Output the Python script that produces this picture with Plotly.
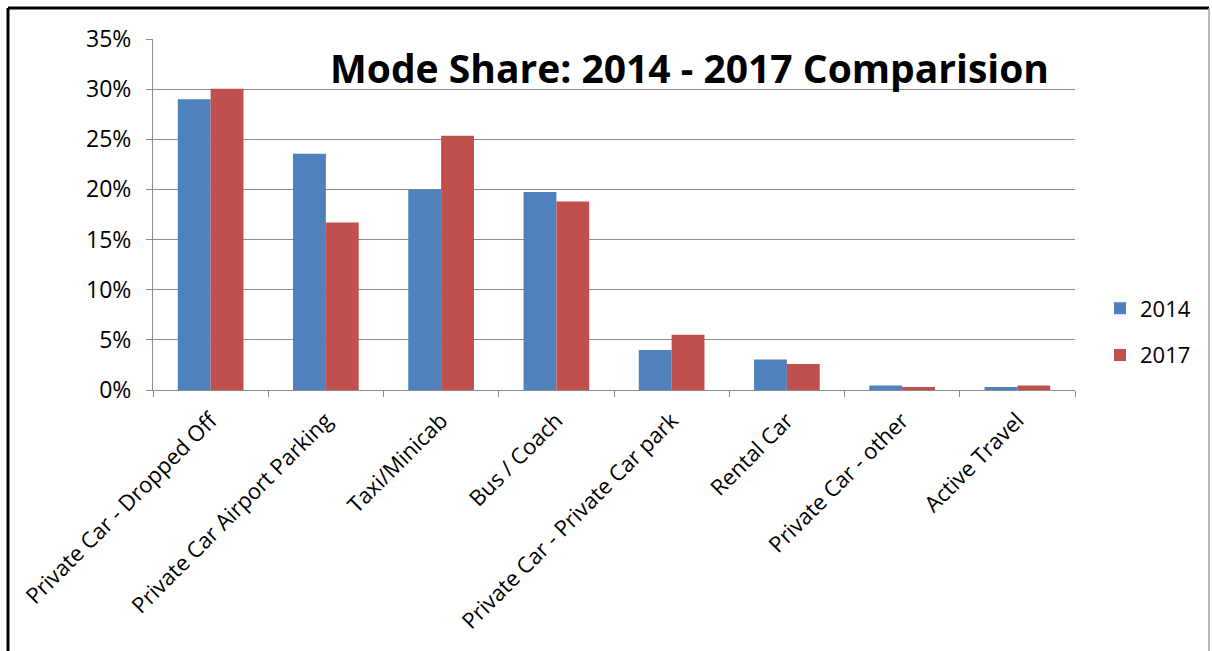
import plotly.graph_objects as go

# Mode share by travel mode, surveyed in 2014 and 2017 (percent)
modes = [
    "Private Car - Dropped Off",
    "Private Car Airport Parking",
    "Taxi/Minicab",
    "Bus / Coach",
    "Private Car - Private Car park",
    "Rental Car",
    "Private Car - other",
    "Active Travel",
]
share_2014 = [29.0, 23.55, 20.0, 19.75, 4.0, 3.05, 0.45, 0.3]
share_2017 = [30.05, 16.7, 25.35, 18.8, 5.5, 2.6, 0.3, 0.45]

BLUE = "#4F81BD"
RED = "#C0504D"
GRID = "#8C8C8C"
FONT = "Open Sans"
LABEL_SIZE = 23

fig = go.Figure()
fig.add_trace(go.Bar(name="2014", x=modes, y=share_2014, marker_color=BLUE,
                     marker_line_width=0, legendgroup="a"))
fig.add_trace(go.Bar(name="2017", x=modes, y=share_2017, marker_color=RED,
                     marker_line_width=0, legendgroup="b"))

# plot area in pixels: x 153..1075, y 39..390
L, R, T, B = 153, 1075, 39, 390
W, H = 1212, 651
pw, ph = R - L, B - T


def px_x(x):
    return (x - L) / pw


def px_y(y):
    return (B - y) / ph


fig.update_layout(
    width=W, height=H,
    margin=dict(l=L, r=W - R, t=T, b=H - B, pad=0, autoexpand=False),
    paper_bgcolor="white", plot_bgcolor="white",
    barmode="group", bargap=0.43, bargroupgap=0,
    font=dict(family=FONT, color="black", size=LABEL_SIZE),
    showlegend=True,
    legend=dict(x=px_x(1100), y=px_y(332), xanchor="left", yanchor="middle",
                font=dict(size=22, family=FONT), tracegroupgap=15,
                bgcolor="rgba(0,0,0,0)", itemwidth=30),
    xaxis=dict(
        type="category", showgrid=False, showline=True, linecolor=GRID,
        linewidth=1, ticks="outside", tickson="boundaries", ticklen=6,
        tickcolor=GRID, tickangle=-45, ticklabelstandoff=8, automargin=False,
        tickfont=dict(size=22, family=FONT),
    ),
    yaxis=dict(
        range=[0, 35], dtick=5, ticksuffix="%", showgrid=True, gridcolor=GRID,
        gridwidth=1, showline=True, linecolor=GRID, linewidth=1,
        ticks="outside", ticklen=6, tickcolor=GRID, zeroline=False,
        automargin=False, ticklabelstandoff=10,
        tickfont=dict(size=LABEL_SIZE, family=FONT),
    ),
    annotations=[dict(
        text="<b>Mode Share: 2014 - 2017 Comparision</b>",
        xref="paper", yref="paper", x=px_x(689), y=px_y(68),
        xanchor="center", yanchor="middle", showarrow=False,
        font=dict(size=39, family=FONT, color="black"),
    )],
    shapes=[
        # outer chart frame
        dict(type="line", xref="paper", yref="paper", x0=px_x(8), x1=px_x(8),
             y0=px_y(8), y1=px_y(660), line=dict(color="black", width=3)),
        dict(type="line", xref="paper", yref="paper", x0=px_x(8), x1=px_x(1209),
             y0=px_y(8), y1=px_y(8), line=dict(color="black", width=3)),
        dict(type="line", xref="paper", yref="paper", x0=px_x(1209), x1=px_x(1209),
             y0=px_y(8), y1=px_y(660), line=dict(color="#A0A0A0", width=1.5)),
    ],
)

fig.write_html("out.html")
